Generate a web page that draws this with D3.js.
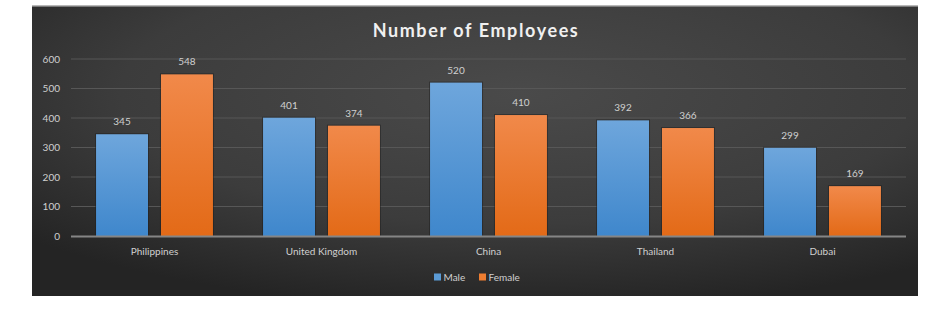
<!DOCTYPE html>
<html><head><meta charset="utf-8">
<script src="https://cdn.jsdelivr.net/npm/d3@7"></script>
<style>body{margin:0;background:#fff;}svg{display:block;}text{font-family:Lato,"Open Sans",sans-serif;}</style>
</head><body>
<svg id="c" width="950" height="315"></svg>
<script>
const categories = ["Philippines","United Kingdom","China","Thailand","Dubai"];
const seriesNames = ["Male","Female"];
const male = [345,401,520,392,299];
const female = [548,374,410,366,169];
const yTicks = [0,100,200,300,400,500,600];
const title = "Number of Employees";

const svg = d3.select("#c");
const defs = svg.append("defs");
const bg = defs.append("radialGradient").attr("id","bg").attr("cx","0.55").attr("cy","0.3").attr("r","0.75");
bg.append("stop").attr("offset","0").attr("stop-color","#4a4a4a");
bg.append("stop").attr("offset","0.6").attr("stop-color","#3c3c3c");
bg.append("stop").attr("offset","1").attr("stop-color","#242424");
const gb = defs.append("linearGradient").attr("id","gBlue").attr("x1",0).attr("y1",0).attr("x2",0).attr("y2",1);
gb.append("stop").attr("offset","0").attr("stop-color","#6ea6dc");
gb.append("stop").attr("offset","1").attr("stop-color","#3f87cc");
const go = defs.append("linearGradient").attr("id","gOrange").attr("x1",0).attr("y1",0).attr("x2",0).attr("y2",1);
go.append("stop").attr("offset","0").attr("stop-color","#f1894a");
go.append("stop").attr("offset","1").attr("stop-color","#e36a17");
const fills = ["url(#gBlue)","url(#gOrange)"];
const legendColors = ["#5b9bd5","#ed7d31"];

svg.append("rect").attr("x",32).attr("y",6).attr("width",886).attr("height",290).attr("fill","url(#bg)");
svg.append("rect").attr("x",32).attr("y",5).attr("width",886).attr("height",2).attr("fill","#9a9a9a").attr("opacity",0.7);

const x0 = d3.scaleBand().domain(categories).range([71,906]).paddingInner(0.3).paddingOuter(0.15);
const x0b = d3.scaleBand().domain(categories).range([71,906]);
const x1 = d3.scaleBand().domain(seriesNames).range([0,x0.bandwidth()]).paddingInner(0.2);
const y = d3.scaleLinear().domain([0,600]).range([236,59]);

// gridlines
svg.append("g").selectAll("line").data(yTicks.filter(d=>d>0)).join("line")
  .attr("x1",71).attr("x2",906).attr("y1",d=>y(d)).attr("y2",d=>y(d))
  .attr("stroke","#575757").attr("stroke-width",1.2);

// y axis labels
const yAxis = d3.axisLeft(y).tickValues(yTicks).tickSize(0).tickPadding(0);
const ya = svg.append("g").attr("transform","translate(60,0)").call(yAxis);
ya.select(".domain").remove();
ya.selectAll("text").attr("fill","#d0d0d0").attr("font-size","10px").style("font-family","Lato,sans-serif");

// bars
const data = categories.map((c,i)=>({c, vals:[male[i],female[i]]}));
const groups = svg.append("g").selectAll("g").data(data).join("g")
  .attr("transform",d=>`translate(${x0(d.c)},0)`);
groups.selectAll("rect.shadow").data(d=>d.vals.map((v,k)=>({k,v}))).join("rect")
  .attr("class","shadow")
  .attr("x",d=>x1(seriesNames[d.k])-1).attr("y",d=>y(d.v)-1)
  .attr("width",x1.bandwidth()+2).attr("height",d=>y(0)-y(d.v)+1)
  .attr("fill","#1e1e1e").attr("opacity",0.5);
groups.selectAll("rect.bar").data(d=>d.vals.map((v,k)=>({k,v}))).join("rect")
  .attr("class","bar")
  .attr("x",d=>x1(seriesNames[d.k])).attr("y",d=>y(d.v))
  .attr("width",x1.bandwidth()).attr("height",d=>y(0)-y(d.v))
  .attr("fill",d=>fills[d.k]);
groups.selectAll("text").data(d=>d.vals.map((v,k)=>({k,v}))).join("text")
  .attr("x",d=>x1(seriesNames[d.k])+x1.bandwidth()/2).attr("y",d=>y(d.v)-9)
  .attr("text-anchor","middle").attr("fill","#d0d0d0").attr("font-size","10px")
  .text(d=>d.v);

// zero axis
svg.append("line").attr("x1",71).attr("x2",906).attr("y1",y(0)+0.5).attr("y2",y(0)+0.5)
  .attr("stroke","#858585").attr("stroke-width",2);

// x axis labels
const xAxis = d3.axisBottom(x0b).tickSize(0).tickPadding(0);
const xa = svg.append("g").attr("transform","translate(0,255)").call(xAxis);
xa.select(".domain").remove();
xa.selectAll("text").attr("fill","#d0d0d0").attr("font-size","10px").attr("dy",0).style("font-family","Lato,sans-serif");

// title
svg.append("text").attr("x",476).attr("y",37).attr("text-anchor","middle")
  .attr("fill","#f0f0f0").attr("font-size","18px").attr("font-weight","bold")
  .attr("letter-spacing","1.6px").text(title);

// legend
const legend = svg.append("g").attr("transform","translate(434,277)");
const lx = [0,45];
seriesNames.forEach((s,i)=>{
  legend.append("rect").attr("x",lx[i]).attr("y",-3.5).attr("width",7).attr("height",7).attr("fill",legendColors[i]);
  legend.append("text").attr("x",lx[i]+9.5).attr("y",3.5).attr("fill","#d0d0d0").attr("font-size","10px").text(s);
});
</script>
</body></html>
